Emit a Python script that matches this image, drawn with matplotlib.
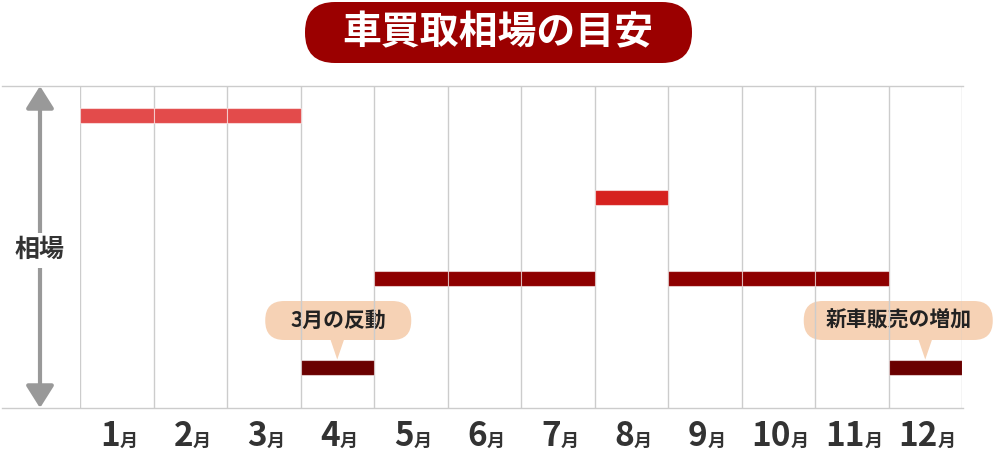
import matplotlib
matplotlib.use("Agg")
import matplotlib.pyplot as plt
from matplotlib.patches import FancyBboxPatch, Polygon
from matplotlib.lines import Line2D

plt.rcParams['font.family'] = ['Noto Sans CJK JP', 'DejaVu Sans']

# データ
months = list(range(1, 13))
month_labels = [str(m) for m in months]
levels = [9.08, 9.08, 9.08, 1.27, 4.02, 4.02, 4.02, 6.54, 4.02, 4.02, 4.02, 1.27]
bar_colors = ['#e34b4b', '#e34b4b', '#e34b4b', '#6a0000',
              '#8e0000', '#8e0000', '#8e0000', '#d6221f',
              '#8e0000', '#8e0000', '#8e0000', '#6a0000']
title = '車買取相場の目安'
ylabel = '相場'
notes = [(4, '3月の反動', 1, 146), (12, '新車販売の増加', -27, 189)]

W, H = 1000, 453
fig = plt.figure(figsize=(W / 100, H / 100), dpi=100)

# ピクセル座標のオーバーレイ
ov = fig.add_axes([0, 0, 1, 1])
ov.set_xlim(0, W)
ov.set_ylim(H, 0)
ov.axis('off')

# メインの軸（グリッド部分）
x0, x1, y0, y1 = 80, 962, 86, 408
ax = fig.add_axes([x0 / W, 1 - y1 / H, (x1 - x0) / W, (y1 - y0) / H])
ax.set_xlim(0.5, 12.5)
ax.set_ylim(0, 10)
ax.axis('off')

for x in [m + 0.5 for m in range(0, 13)]:
    ax.axvline(x, color='#cccccc', lw=1, zorder=1)

bar_h = 0.47
ax.bar(months, [bar_h] * 12, bottom=[v - bar_h / 2 for v in levels],
       width=1.0, color=bar_colors, edgecolor=(1, 1, 1, 0.55), linewidth=0.8,
       zorder=2)

# 上下の横線
ov.add_line(Line2D([2, 963], [85.5, 85.5], color='#cccccc', lw=1))
ov.add_line(Line2D([2, 963], [408, 408], color='#cccccc', lw=1))

# 相場の矢印
astyle = '-|>,head_length=1.35,head_width=0.85'
ov.annotate('', xy=(40, 86), xytext=(40, 250),
            arrowprops=dict(arrowstyle=astyle, color='#999999', lw=3,
                            shrinkA=0, shrinkB=0))
ov.annotate('', xy=(40, 408), xytext=(40, 250),
            arrowprops=dict(arrowstyle=astyle, color='#999999', lw=3,
                            shrinkA=0, shrinkB=0))
ov.text(40, 250, ylabel, ha='center', va='center', fontsize=18, fontweight='bold',
        color='#333333', bbox=dict(facecolor='white', edgecolor='none', pad=4))

# タイトル
ov.add_patch(FancyBboxPatch((305, 2), 387, 61, boxstyle='round,pad=0,rounding_size=30',
                            facecolor='#9b0000', edgecolor='none'))
ov.text(498, 33, title, ha='center', va='center', fontsize=28, fontweight='bold',
        color='white')

# 吹き出し
for m, txt, shift, bw in notes:
    cx = ax.transData.transform((m, 0))[0]
    bar_top = H - ax.transData.transform((m, levels[m - 1] + bar_h / 2))[1]
    bx = cx + shift
    ov.add_patch(FancyBboxPatch((bx - bw / 2, 301), bw, 39,
                                boxstyle='round,pad=0,rounding_size=19',
                                facecolor='#f6d2b5', edgecolor='none', zorder=3))
    ov.add_patch(Polygon([(cx - 7, 339), (cx + 7, 339), (cx, bar_top)],
                         closed=True, facecolor='#f6d2b5', edgecolor='none', zorder=3))
    ov.text(bx, 320, txt, ha='center', va='center', fontsize=15,
            fontweight='bold', color='#222222', zorder=4)

# 月ラベル
fig.canvas.draw()
r = fig.canvas.get_renderer()
for m, lab in zip(months, month_labels):
    cx = ax.transData.transform((m, 0))[0] + 2
    t1 = ov.text(0, 437, lab, ha='left', va='center', fontsize=24, fontweight='bold',
                 color='#333333')
    t2 = ov.text(0, 441, '月', ha='left', va='center', fontsize=13, fontweight='bold',
                 color='#333333')
    w1 = t1.get_window_extent(r).width
    w2 = t2.get_window_extent(r).width
    left = cx - (w1 + w2) / 2
    t1.set_x(left)
    t2.set_x(left + w1)

fig.savefig('out.png', dpi=100, facecolor='white')
